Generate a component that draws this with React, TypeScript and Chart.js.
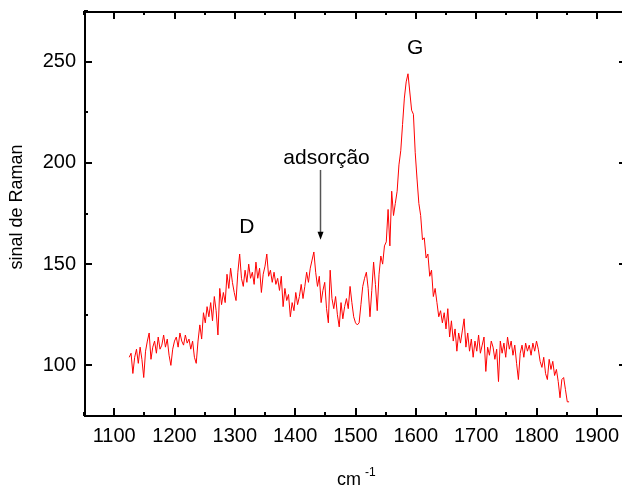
import React, { useEffect, useRef } from "react";
import { Chart, registerables } from "chart.js";

Chart.register(...registerables);

const wavenumbers = [
  1125, 1128, 1131, 1134, 1137, 1140, 1143, 1146, 1149, 1152,
  1155, 1158, 1161, 1164, 1167, 1170, 1173, 1176, 1179, 1182,
  1185, 1188, 1191, 1194, 1197, 1200, 1203, 1206, 1209, 1212,
  1215, 1218, 1221, 1224, 1227, 1230, 1233, 1236, 1239, 1242,
  1245, 1248, 1251, 1254, 1257, 1260, 1263, 1266, 1269, 1272,
  1275, 1278, 1281, 1284, 1287, 1290, 1293, 1296, 1299, 1302,
  1305, 1308, 1311, 1314, 1317, 1320, 1323, 1326, 1329, 1332,
  1335, 1338, 1341, 1344, 1347, 1350, 1353, 1356, 1359, 1362,
  1365, 1368, 1371, 1374, 1377, 1380, 1383, 1386, 1389, 1392,
  1395, 1398, 1401, 1404, 1407, 1410, 1413, 1416, 1419, 1422,
  1425, 1428, 1431, 1434, 1437, 1440, 1443, 1446, 1449, 1452,
  1455, 1458, 1461, 1464, 1467, 1470, 1473, 1476, 1479, 1482,
  1485, 1488, 1491, 1494, 1497, 1500, 1503, 1506, 1509, 1512,
  1515, 1518, 1521, 1524, 1527, 1530, 1533, 1536, 1539, 1542,
  1545, 1548, 1551, 1554, 1557, 1560, 1563, 1566, 1569, 1572,
  1575, 1578, 1581, 1584, 1587, 1590, 1593, 1596, 1599, 1602,
  1605, 1608, 1611, 1614, 1617, 1620, 1623, 1626, 1629, 1632,
  1635, 1638, 1641, 1644, 1647, 1650, 1653, 1656, 1659, 1662,
  1665, 1668, 1671, 1674, 1677, 1680, 1683, 1686, 1689, 1692,
  1695, 1698, 1701, 1704, 1707, 1710, 1713, 1716, 1719, 1722,
  1725, 1728, 1731, 1734, 1737, 1740, 1743, 1746, 1749, 1752,
  1755, 1758, 1761, 1764, 1767, 1770, 1773, 1776, 1779, 1782,
  1785, 1788, 1791, 1794, 1797, 1800, 1803, 1806, 1809, 1812,
  1815, 1818, 1821, 1824, 1827, 1830, 1833, 1836, 1839, 1842,
  1845, 1848, 1851, 1854,
];

const ramanSignal = [
  104, 106, 96, 104, 108, 101, 109, 103, 94, 107,
  112, 116, 103, 109, 112, 106, 114, 108, 110, 115,
  109, 113, 105, 100, 108, 112, 114, 109, 116, 112,
  110, 115, 111, 113, 108, 112, 104, 101, 112, 120,
  113, 126, 121, 129, 124, 131, 122, 134, 127, 115,
  138, 130, 136, 131, 145, 138, 148, 141, 136, 132,
  146, 155, 143, 139, 147, 141, 150, 143, 146, 140,
  151, 143, 148, 136, 145, 149, 155, 144, 147, 141,
  146, 140, 143, 137, 144, 129, 138, 132, 135, 124,
  131, 127, 136, 130, 134, 140, 133, 139, 146, 141,
  148, 152, 156, 146, 139, 144, 131, 137, 141, 128,
  121, 147, 133, 128, 134, 125, 119, 131, 123, 129,
  133, 128, 139, 131, 124, 121, 120, 121, 130, 139,
  143, 146, 138, 124, 137, 151, 140, 127, 145, 154,
  150, 159, 161, 177, 159, 186, 174, 180, 186, 199,
  206, 219, 232, 240, 244, 235, 226, 224, 205, 192,
  180, 174, 162, 163, 153, 155, 144, 147, 134, 138,
  131, 124, 127, 121, 126, 118, 128, 114, 122, 112,
  118, 107, 116, 111, 117, 123, 109, 116, 107, 113,
  104, 112, 107, 115, 106, 110, 114, 97, 109, 105,
  112, 109, 103, 108, 92, 112, 106, 111, 104, 114,
  108, 112, 105, 110, 101, 93, 106, 110, 104, 111,
  107, 110, 105, 111, 107, 112, 108, 102, 99, 104,
  96, 93, 103, 98, 102, 95, 98, 92, 84, 93,
  94, 88, 82, 82,
];

const xMin = 1050;
const xMax = 1950;
const yMin = 75;
const yMax = 275;
const xMajorTicks = [1100, 1200, 1300, 1400, 1500, 1600, 1700, 1800, 1900];
const xMinorTicks = [1050, 1150, 1250, 1350, 1450, 1550, 1650, 1750, 1850, 1950];
const yMajorTicks = [100, 150, 200, 250];
const yMinorTicks = [75, 125, 175, 225, 275];

const annotations = [
  { text: "D", x: 1320, y: 168 },
  { text: "adsorção", x: 1452, y: 202.5 },
  { text: "G", x: 1599, y: 256.5 },
];
const arrowFrom = { x: 1441, y: 196.5 };
const arrowTo = { x: 1441, y: 162 };

const FONT = '"Liberation Sans", Arial, sans-serif';

const framePlugin = {
  id: "framePlugin",
  afterDraw(chart: any) {
    const { ctx, chartArea, scales } = chart;
    const xs = scales.x;
    const ys = scales.y;
    const { left, right, top, bottom } = chartArea;
    ctx.save();
    ctx.strokeStyle = "#000";
    ctx.lineWidth = 2;
    ctx.strokeRect(left + 1, top + 1, right - left - 1, bottom - top - 1);

    const tick = (x1: number, y1: number, x2: number, y2: number) => {
      ctx.beginPath();
      ctx.moveTo(x1, y1);
      ctx.lineTo(x2, y2);
      ctx.stroke();
    };
    ctx.lineWidth = 2;
    xMajorTicks.forEach((v) => {
      const px = Math.round(xs.getPixelForValue(v));
      tick(px, bottom, px, bottom - 8);
      tick(px, top, px, top + 8);
    });
    xMinorTicks.forEach((v) => {
      const px = Math.round(xs.getPixelForValue(v));
      tick(px, bottom, px, bottom - 4);
      tick(px, top, px, top + 4);
    });
    yMajorTicks.forEach((v) => {
      const py = Math.round(ys.getPixelForValue(v));
      tick(left, py, left + 8, py);
      tick(right, py, right - 8, py);
    });
    yMinorTicks.forEach((v) => {
      const py = Math.round(ys.getPixelForValue(v));
      tick(left, py, left + 4, py);
      tick(right, py, right - 4, py);
    });

    // annotations
    ctx.fillStyle = "#000";
    ctx.font = `21px ${FONT}`;
    ctx.textAlign = "center";
    ctx.textBaseline = "middle";
    annotations.forEach((a) => {
      ctx.fillText(a.text, xs.getPixelForValue(a.x), ys.getPixelForValue(a.y));
    });

    // arrow
    const ax = Math.round(xs.getPixelForValue(arrowFrom.x)) + 0.5;
    const ay1 = ys.getPixelForValue(arrowFrom.y);
    const ay2 = ys.getPixelForValue(arrowTo.y);
    ctx.strokeStyle = "#555";
    ctx.lineWidth = 1.5;
    tick(ax, ay1, ax, ay2 - 7);
    ctx.fillStyle = "#000";
    ctx.beginPath();
    ctx.moveTo(ax - 3, ay2 - 8);
    ctx.lineTo(ax + 3, ay2 - 8);
    ctx.lineTo(ax, ay2);
    ctx.closePath();
    ctx.fill();

    // y title
    ctx.save();
    ctx.font = `18px ${FONT}`;
    ctx.translate(17, 207);
    ctx.rotate(-Math.PI / 2);
    ctx.textAlign = "center";
    ctx.textBaseline = "middle";
    ctx.fillText("sinal de Raman", 0, 0);
    ctx.restore();

    // x title
    ctx.font = `18px ${FONT}`;
    ctx.textAlign = "left";
    ctx.textBaseline = "alphabetic";
    ctx.fillText("cm", 337, 485);
    ctx.font = `12px ${FONT}`;
    ctx.fillText("-1", 365, 476);
    ctx.restore();
  },
};

export default function App() {
  const canvasRef = useRef<HTMLCanvasElement | null>(null);

  useEffect(() => {
    const canvas = canvasRef.current;
    if (!canvas) return;
    const points = wavenumbers.map((w, i) => ({ x: w, y: ramanSignal[i] }));
    const chart = new Chart(canvas, {
      type: "line",
      data: {
        datasets: [
          {
            data: points,
            borderColor: "#ff0000",
            borderWidth: 1,
            pointRadius: 0,
            tension: 0,
            fill: false,
          },
        ],
      },
      options: {
        animation: false,
        responsive: false,
        devicePixelRatio: 1,
        layout: { padding: { top: 11, right: 13, left: 0, bottom: 0 } },
        plugins: {
          legend: { display: false },
          tooltip: { enabled: false },
          title: { display: false },
        },
        scales: {
          x: {
            type: "linear",
            min: xMin,
            max: xMax,
            grid: { display: false, drawTicks: false },
            border: { display: false },
            afterBuildTicks: (s: any) => {
              s.ticks = xMajorTicks.map((v) => ({ value: v }));
            },
            ticks: {
              color: "#000",
              font: { family: FONT, size: 20 },
              padding: 8,
              maxRotation: 0,
              autoSkip: false,
              callback: (v: any) => String(v),
            },
            afterFit: (s: any) => {
              s.height = 70;
              s.paddingLeft = 0;
              s.paddingRight = 0;
            },
          },
          y: {
            type: "linear",
            min: yMin,
            max: yMax,
            grid: { display: false, drawTicks: false },
            border: { display: false },
            afterBuildTicks: (s: any) => {
              s.ticks = yMajorTicks.map((v) => ({ value: v }));
            },
            ticks: {
              color: "#000",
              font: { family: FONT, size: 20 },
              padding: 8,
              autoSkip: false,
              callback: (v: any) => String(v),
            },
            afterFit: (s: any) => {
              s.width = 84;
              s.paddingTop = 0;
              s.paddingBottom = 0;
            },
          },
        },
      },
      plugins: [framePlugin],
    });
    return () => chart.destroy();
  }, []);

  return (
    <div
      style={{
        position: "fixed",
        left: 0,
        top: 0,
        width: 622,
        height: 486,
        overflow: "hidden",
        background: "#fff",
      }}
    >
      <canvas
        ref={canvasRef}
        width={640}
        height={486}
        style={{ width: 640, height: 486, display: "block" }}
      />
    </div>
  );
}
